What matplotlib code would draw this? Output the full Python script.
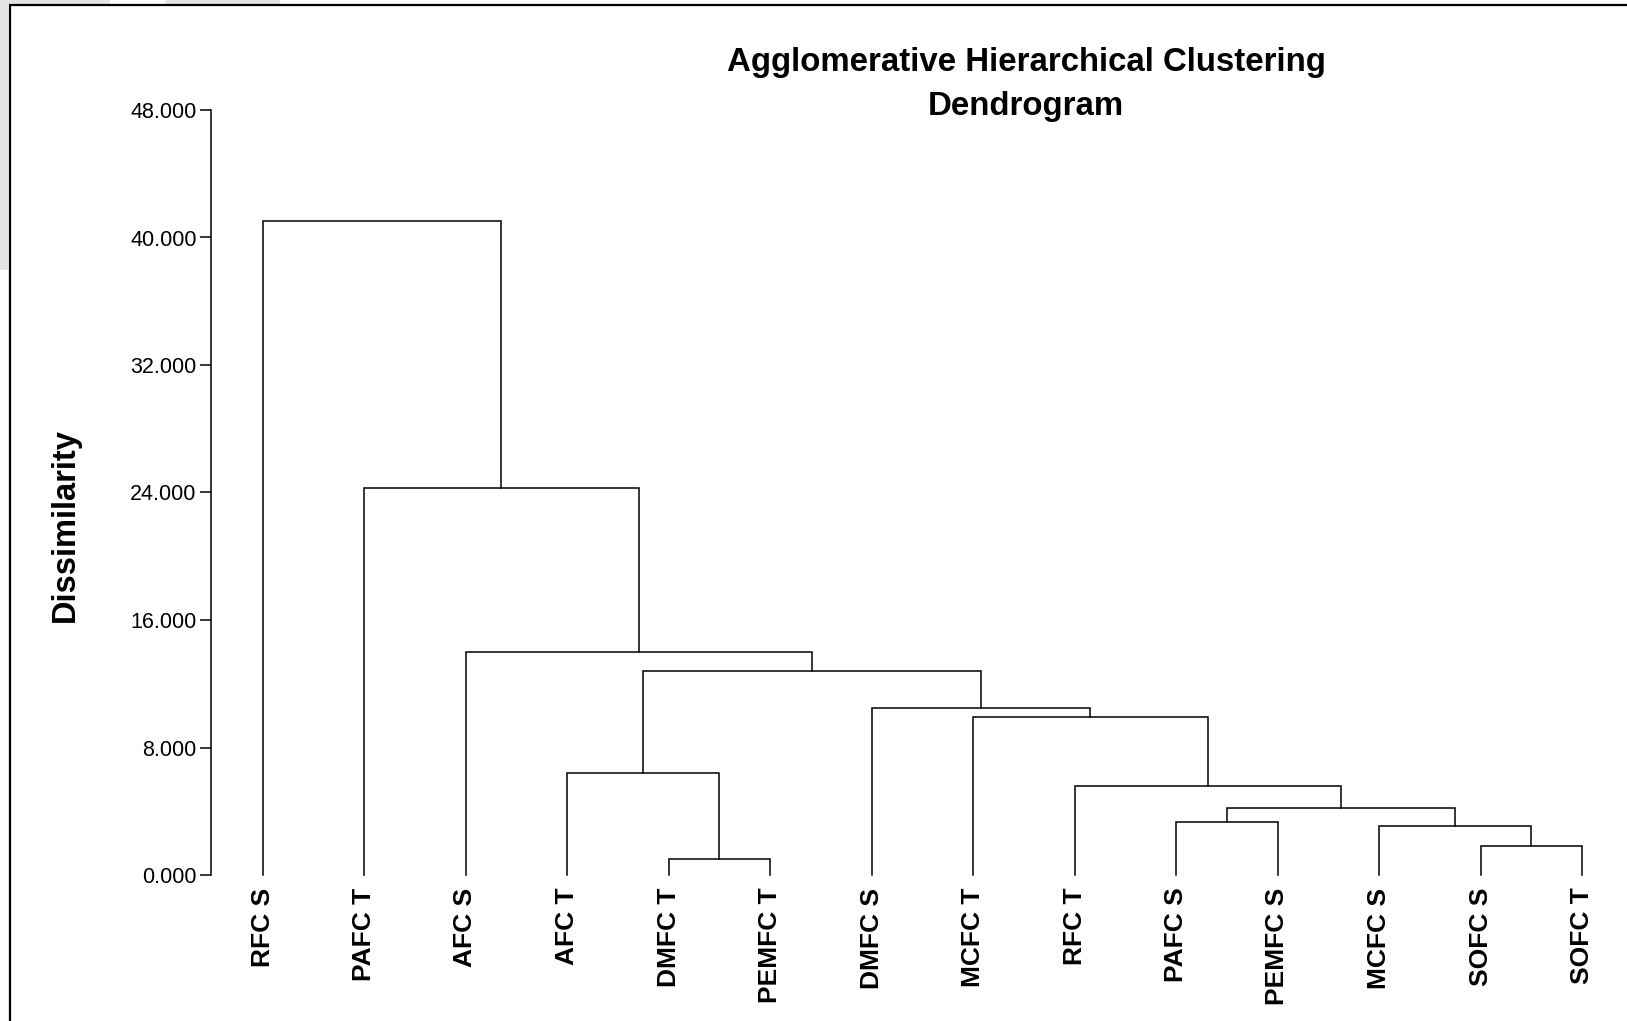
import matplotlib
matplotlib.use("Agg")
import matplotlib.pyplot as plt
from matplotlib.patches import Rectangle

plt.rcParams["font.family"] = ["Liberation Sans", "DejaVu Sans"]

# leaf order as drawn, left to right
leaves = ["RFC S", "PAFC T", "AFC S", "AFC T", "DMFC T", "PEMFC T", "DMFC S",
          "MCFC T", "RFC T", "PAFC S", "PEMFC S", "MCFC S", "SOFC S", "SOFC T"]

# merges: (left node, right node); nodes >= len(leaves) are earlier merges
merge_left = [4, 12, 11, 9, 17, 8, 3, 7, 6, 20, 2, 1, 0]
merge_right = [5, 13, 15, 10, 16, 18, 14, 19, 21, 22, 23, 24, 25]
merge_height = [0.98, 1.82, 3.09, 3.34, 4.18, 5.58, 6.41, 9.92, 10.48,
                12.80, 13.99, 24.27, 41.04]

yticks = [0, 8, 16, 24, 32, 40, 48]

W, H = 1627, 1021
fig = plt.figure(figsize=(W / 100, H / 100), dpi=100)

# faint grey watermark bits in the top-left corner
for (x0, y0, w, h) in [(0, 0, 8, 270), (0, 0, 110, 5), (165, 0, 115, 5)]:
    fig.patches.append(Rectangle((x0 / W, 1 - (y0 + h) / H), w / W, h / H,
                                 transform=fig.transFigure, color="#e4e4e4",
                                 lw=0, zorder=0))
# outer frame
fig.patches.append(Rectangle((10 / W, -0.05), 1.2, 1 - 5 / H + 0.05,
                             transform=fig.transFigure, fill=False,
                             edgecolor="black", lw=1.6, zorder=1))

ax_left, ax_top, ax_bottom = 210.6, 110.0, 875.0
ax = fig.add_axes([ax_left / W, (H - ax_bottom) / H,
                   (W - ax_left) / W, (ax_bottom - ax_top) / H])
ax.patch.set_alpha(0)

n = len(leaves)
xpos = {i: float(i) for i in range(n)}
ypos = {i: 0.0 for i in range(n)}
for k, (a, b, h) in enumerate(zip(merge_left, merge_right, merge_height)):
    xa, xb = xpos[a], xpos[b]
    ax.plot([xa, xa, xb, xb], [ypos[a], h, h, ypos[b]], color="black",
            lw=1.1, solid_joinstyle="miter", clip_on=False)
    xpos[n + k] = (xa + xb) / 2
    ypos[n + k] = h

spacing = 101.5
first_leaf = 262.5
ax.set_xlim(-(first_leaf - ax_left) / spacing, (W - first_leaf) / spacing)
ax.set_ylim(0, 48)

for s in ["top", "right", "bottom"]:
    ax.spines[s].set_visible(False)
ax.spines["left"].set_linewidth(1.1)

ax.set_yticks(yticks)
ax.set_yticklabels(["%.3f" % v for v in yticks], fontsize=15.5)
ax.tick_params(axis="y", direction="out", length=8, width=1.1, pad=2)

ax.set_xticks(range(n))
ax.set_xticklabels(leaves, rotation=90, fontsize=19, fontweight="bold",
                   va="top", ha="center")
ax.tick_params(axis="x", length=0, pad=9)

fig.text(65 / W, 1 - 525 / H, "Dissimilarity", rotation=90, fontsize=23.5,
         fontweight="bold", ha="center", va="center")
fig.text(1026 / W, 1 - 62 / H, "Agglomerative Hierarchical Clustering",
         fontsize=23.8, fontweight="bold", ha="center", va="center")
fig.text(1026 / W, 1 - 106 / H, "Dendrogram",
         fontsize=23.8, fontweight="bold", ha="center", va="center")

fig.savefig("out.png", dpi=100)
